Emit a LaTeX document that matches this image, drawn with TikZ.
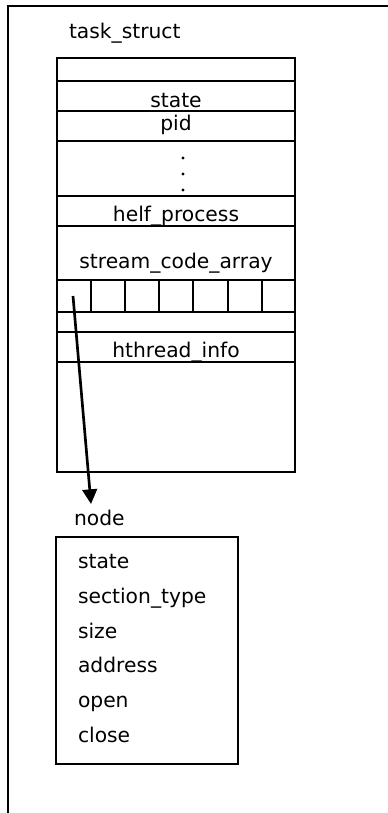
\documentclass[tikz,border=0pt]{standalone}
\usepackage{fontspec}
\setmainfont{DejaVu Sans}
\usetikzlibrary{arrows.meta}
\begin{document}
\begin{tikzpicture}[x=0.75pt, y=-0.75pt, line width=1.5pt,
  lbl/.style={inner sep=0pt, anchor=base, font=\fontsize{15.2pt}{18pt}\selectfont},
  lbll/.style={lbl, anchor=base west},
  dotmark/.style={circle, fill, draw=none, inner sep=0pt, minimum size=2.4pt},
  ptr/.style={line width=2pt, -{Triangle[length=11pt, width=11pt]}}]
\useasboundingbox (0,0) rectangle (388,813);

% outer frame (top and left edges only)
\draw (8,813) -- (8,6) -- (388,6);

% task_struct record
\node[lbll] (tsname) at (68,39) {task\_struct};
\draw (57,58) rectangle (295,472);
\foreach \y in {81,111,141,196,226,280,312,332,362}
  \draw (57,\y) -- (295,\y);
% stream_code_array cells
\foreach \x in {91,125,159,193,228,262}
  \draw (\x,280) -- (\x,312);

\node[lbl] (fstate)  at (176,108) {state};
\node[lbl] (fpid)    at (176,131) {pid};
% vertical ellipsis between pid and helf_process
\node[dotmark] (dot1) at (183,158) {};
\node[dotmark] (dot2) at (183,174) {};
\node[dotmark] (dot3) at (183,190) {};
\node[lbl] (fhelf)   at (176,221) {helf\_process};
\node[lbl] (fstream) at (176,268) {stream\_code\_array};
\node[lbl] (fhth)    at (176,357) {hthread\_info};

% node record
\node[lbll] (ndname) at (73,525) {node};
\draw (56,537) rectangle (238,764);
\node[lbll] (nstate) at (77,568) {state};
\node[lbll] (nsect)  at (77,603) {section\_type};
\node[lbll] (nsize)  at (77,638) {size};
\node[lbll] (naddr)  at (77,672) {address};
\node[lbll] (nopen)  at (77,707) {open};
\node[lbll] (nclose) at (77,742) {close};

% pointer from the first cell to the node record
\coordinate (cell0) at (73,296);
\coordinate (ndtop) at (91,504);
\draw[ptr] (cell0) -- (ndtop);
\end{tikzpicture}
\end{document}
